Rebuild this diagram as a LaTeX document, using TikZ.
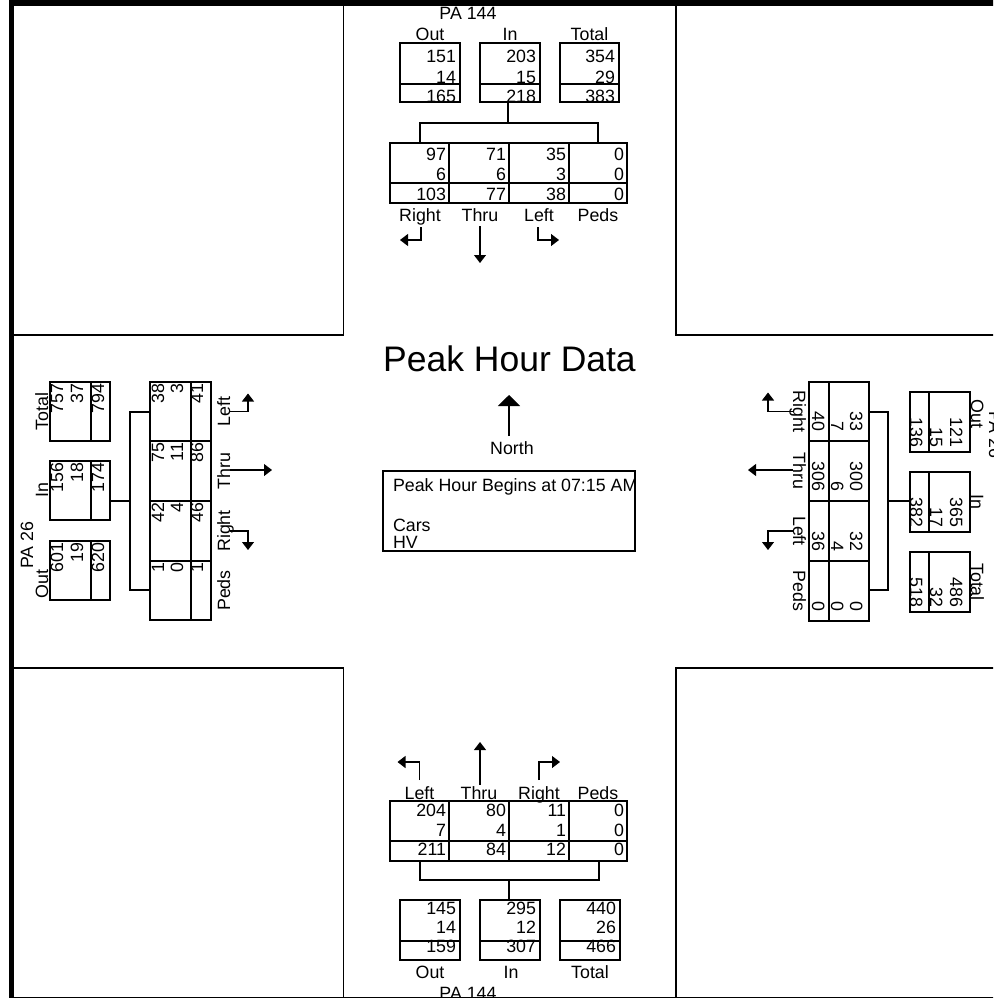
\documentclass[tikz,border=0pt]{standalone}
\usepackage{fontspec}
\setmainfont{Liberation Sans}
\usetikzlibrary{arrows.meta}
\newcommand\fsn{\fontsize{17.8}{19}\selectfont}
\newcommand\fsbig{\fontsize{35.5}{40}\selectfont}
\begin{document}
\begin{tikzpicture}[x=1pt,y=-1pt,
  every node/.style={inner sep=0pt,outer sep=0pt,font=\fsn},
  ln/.style={line width=1.1pt},
  box/.style={draw,line width=1.1pt},
  arr/.style={line width=1.1pt,-{Triangle[width=12pt,length=8pt]}},
  rnum/.style={anchor=base east},
  lbl/.style={anchor=base},
]
\useasboundingbox (0,0) rectangle (993,998);
\clip (0,0) rectangle (993,998);

% quadrants
\draw[ln] (12,-5) rectangle (343.5,335);
\draw[ln] (676,-5) rectangle (1010,335);
\draw[ln] (12,668) rectangle (343.5,1010);
\draw[ln] (676,668) rectangle (1010,1010);

% ===== title / centre =====
\node[anchor=base,font=\fsbig] (title) at (509.5,371) {Peak Hour Data};
\node[lbl] (north) at (512,454) {North};
\coordinate (nbot) at (509,436);
\coordinate (ntop) at (509,395);
\draw[line width=1.1pt,-{Triangle[width=22pt,length=11pt]}] (nbot) -- (ntop);
\node[box,minimum width=252pt,minimum height=80pt] (info) at (509,511) {};
\node[anchor=base west] (phb) at (393,491) {Peak Hour Begins at 07:15 AM};
\node[anchor=base west] (cars) at (393,531) {Cars};
\node[anchor=base west] (hv) at (393,548) {HV};

% ===== top (PA 144 southbound) =====
\node[lbl] (tname) at (468,20) {PA 144};
\node[lbl] (tlo) at (430,41) {Out};
\node[lbl] (tli) at (510,41) {In};
\node[lbl] (tlt) at (589.5,41) {Total};
\node[box,minimum width=60pt,minimum height=59pt] (tout) at (430,72.5) {};
\node[box,minimum width=60pt,minimum height=59pt] (tin) at (510,72.5) {};
\node[box,minimum width=59pt,minimum height=59pt] (ttot) at (589.5,72.5) {};
\draw[ln] (400,84) -- (460,84) (480,84) -- (540,84) (560,84) -- (619,84);
\foreach \x/\a/\b/\c [count=\k] in {456/151/14/165, 536/203/15/218, 615/354/29/383} {
  \node[rnum] (ts-\k-a) at (\x,63) {\a};
  \node[rnum] (ts-\k-b) at (\x,83) {\b};
  \node[rnum] (ts-\k-c) at (\x,102) {\c};
}
\node[box,minimum width=237pt,minimum height=60pt] (tbig) at (508.5,173) {};
\draw[ln] (449,143) -- (449,203) (509,143) -- (509,203) (569,143) -- (569,203) (390,183) -- (627,183);
\foreach \x/\a/\b/\c [count=\k] in {446/97/6/103, 506/71/6/77, 566/35/3/38, 624/0/0/0} {
  \node[rnum] (tb-\k-a) at (\x,160) {\a};
  \node[rnum] (tb-\k-b) at (\x,180) {\b};
  \node[rnum] (tb-\k-c) at (\x,200) {\c};
}
\coordinate (tjl) at (420,123);
\coordinate (tjr) at (598,123);
\draw[ln] ([xshift=-2pt]tin.south) -- ([xshift=-2pt]tin.south |- tjl);
\draw[ln] (tjl |- tbig.north) -- (tjl) -- (tjr) -- (tjr |- tbig.north);
\node[lbl] (tR) at (420,221) {Right};
\node[lbl] (tT) at (480,221) {Thru};
\node[lbl] (tL) at (539,221) {Left};
\node[lbl] (tP) at (598,221) {Peds};
\draw[arr] ([xshift=1pt,yshift=-6pt]tR.base) |- ++(-21,13);
\draw[arr] ([yshift=-5pt]tT.base) -- ++(0,37);
\draw[arr] ([xshift=-1pt,yshift=-6pt]tL.base) |- ++(21,13);

% ===== bottom (PA 144 northbound) =====
\node[lbl] (bLl) at (419.5,799) {Left};
\node[lbl] (bTl) at (479,799) {Thru};
\node[lbl] (bRl) at (539,799) {Right};
\node[lbl] (bPl) at (598,799) {Peds};
\draw[arr] ([yshift=19pt]bLl.base) |- ++(-22,-18);
\draw[arr] ([xshift=1pt,yshift=14pt]bTl.base) -- ++(0,-43);
\draw[arr] ([yshift=19pt]bRl.base) |- ++(21,-18);
\node[box,minimum width=237pt,minimum height=60pt] (bbig) at (508.5,831) {};
\draw[ln] (449,801) -- (449,861) (509,801) -- (509,861) (569,801) -- (569,861) (390,841) -- (627,841);
\foreach \x/\a/\b/\c [count=\k] in {446/204/7/211, 506/80/4/84, 566/11/1/12, 624/0/0/0} {
  \node[rnum] (bb-\k-a) at (\x,816) {\a};
  \node[rnum] (bb-\k-b) at (\x,836) {\b};
  \node[rnum] (bb-\k-c) at (\x,855) {\c};
}
\node[box,minimum width=60pt,minimum height=60pt] (bout) at (430,930) {};
\node[box,minimum width=60pt,minimum height=60pt] (bin) at (510,930) {};
\node[box,minimum width=60pt,minimum height=60pt] (btot) at (590,930) {};
\draw[ln] (400,941) -- (460,941) (480,941) -- (540,941) (560,941) -- (620,941);
\foreach \x/\a/\b/\c [count=\k] in {456/145/14/159, 536/295/12/307, 616/440/26/466} {
  \node[rnum] (bs-\k-a) at (\x,914) {\a};
  \node[rnum] (bs-\k-b) at (\x,933) {\b};
  \node[rnum] (bs-\k-c) at (\x,952) {\c};
}
\coordinate (bjl) at (420,880);
\coordinate (bjr) at (599,880);
\draw[ln] (bjl |- bbig.south) -- (bjl) -- (bjr) -- (bjr |- bbig.south);
\draw[ln] ([xshift=-1pt]bin.north) -- ([xshift=-1pt]bin.north |- bjl);
\node[lbl] (blo) at (430,978) {Out};
\node[lbl] (bli) at (511,978) {In};
\node[lbl] (blt) at (590,978) {Total};
\node[lbl] (bname) at (468,999) {PA 144};

% ===== left (PA 26 eastbound) =====
\node[lbl,rotate=90] (llt) at (48,411.5) {Total};
\node[lbl,rotate=90] (lli) at (48,490.5) {In};
\node[lbl,rotate=90] (llo) at (48,584) {Out};
\node[lbl,rotate=90] (lname) at (33,545) {PA 26};
\node[box,minimum width=60pt,minimum height=59pt] (ltot) at (80,411.5) {};
\node[box,minimum width=60pt,minimum height=59pt] (lin) at (80,490.5) {};
\node[box,minimum width=60pt,minimum height=59pt] (lout) at (80,570.5) {};
\draw[ln] (91,382) -- (91,441) (91,461) -- (91,520) (91,541) -- (91,600);
\foreach \y/\a/\b/\c [count=\k] in {384/757/37/794, 463/156/18/174, 543/601/19/620} {
  \node[rnum,rotate=90] (ls-\k-a) at (63,\y) {\a};
  \node[rnum,rotate=90] (ls-\k-b) at (83,\y) {\b};
  \node[rnum,rotate=90] (ls-\k-c) at (104,\y) {\c};
}
\node[box,minimum width=61pt,minimum height=238pt] (lbig) at (180.5,501) {};
\draw[ln] (191,382) -- (191,620) (150,441) -- (211,441) (150,501) -- (211,501) (150,561) -- (211,561);
\foreach \y/\a/\b/\c [count=\k] in {384/38/3/41, 443/75/11/86, 503/42/4/46, 563/1/0/1} {
  \node[rnum,rotate=90] (lb-\k-a) at (164,\y) {\a};
  \node[rnum,rotate=90] (lb-\k-b) at (183,\y) {\b};
  \node[rnum,rotate=90] (lb-\k-c) at (203,\y) {\c};
}
\coordinate (ljt) at (130,412);
\coordinate (ljb) at (130,590);
\draw[ln] (ljt -| lbig.west) -- (ljt) -- (ljb) -- (ljb -| lbig.west);
\draw[ln] ([yshift=-10.5pt]lin.east) -- ([yshift=-10.5pt]lin.east -| ljt);
\node[lbl,rotate=90] (lL) at (230,411.5) {Left};
\node[lbl,rotate=90] (lT) at (230,471) {Thru};
\node[lbl,rotate=90] (lR) at (230,531) {Right};
\node[lbl,rotate=90] (lP) at (230,590.5) {Peds};
\draw[arr] (lL.base) -| ++(18,-18);
\draw[arr] ([yshift=1pt]lT.base) -- ++(42,0);
\draw[arr] (lR.base) -| ++(18,19);

% ===== right (PA 26 westbound) =====
\node[lbl,rotate=-90] (rlo) at (971,414) {Out};
\node[lbl,rotate=-90] (rli) at (971,502) {In};
\node[lbl,rotate=-90] (rlt) at (971,582) {Total};
\node[lbl,rotate=-90] (rname) at (989,435) {PA 26};
\node[box,minimum width=60pt,minimum height=60pt] (rout) at (940,422) {};
\node[box,minimum width=60pt,minimum height=60pt] (rin) at (940,502) {};
\node[box,minimum width=60pt,minimum height=60pt] (rtot) at (940,582) {};
\draw[ln] (929,392) -- (929,452) (929,472) -- (929,532) (929,552) -- (929,612);
\foreach \y/\a/\b/\c [count=\k] in {447/121/15/136, 527/365/17/382, 607/486/32/518} {
  \node[rnum,rotate=-90] (rs-\k-a) at (950,\y) {\a};
  \node[rnum,rotate=-90] (rs-\k-b) at (930,\y) {\b};
  \node[rnum,rotate=-90] (rs-\k-c) at (910,\y) {\c};
}
\node[box,minimum width=60pt,minimum height=239pt] (rbig) at (839,501.5) {};
\draw[ln] (829,382) -- (829,621) (809,441) -- (869,441) (809,501) -- (869,501) (809,561) -- (869,561);
\foreach \y/\a/\b/\c [count=\k] in {431/33/7/40, 491/300/6/306, 551/32/4/36, 611/0/0/0} {
  \node[rnum,rotate=-90] (rb-\k-a) at (850,\y) {\a};
  \node[rnum,rotate=-90] (rb-\k-b) at (831,\y) {\b};
  \node[rnum,rotate=-90] (rb-\k-c) at (812,\y) {\c};
}
\coordinate (rjt) at (888,412);
\coordinate (rjb) at (888,590);
\draw[ln] (rjt -| rbig.east) -- (rjt) -- (rjb) -- (rjb -| rbig.east);
\draw[ln] ([yshift=1pt]rin.west) -- ([yshift=1pt]rin.west -| rjt);
\node[lbl,rotate=-90] (rR) at (793,411.5) {Right};
\node[lbl,rotate=-90] (rT) at (793,471) {Thru};
\node[lbl,rotate=-90] (rL) at (793,531) {Left};
\node[lbl,rotate=-90] (rP) at (793,591) {Peds};
\draw[arr] (rR.base) -| ++(-25,-19);
\draw[arr] ([yshift=1pt]rT.base) -- ++(-45,0);
\draw[arr] (rL.base) -| ++(-25,19);

% ===== frame =====
\draw[line width=6pt] (9,3) -- (1000,3);
\draw[line width=5pt] (11.5,0) -- (11.5,998);
\draw[line width=1.5pt] (9,997.5) -- (1000,997.5);
\end{tikzpicture}
\end{document}
